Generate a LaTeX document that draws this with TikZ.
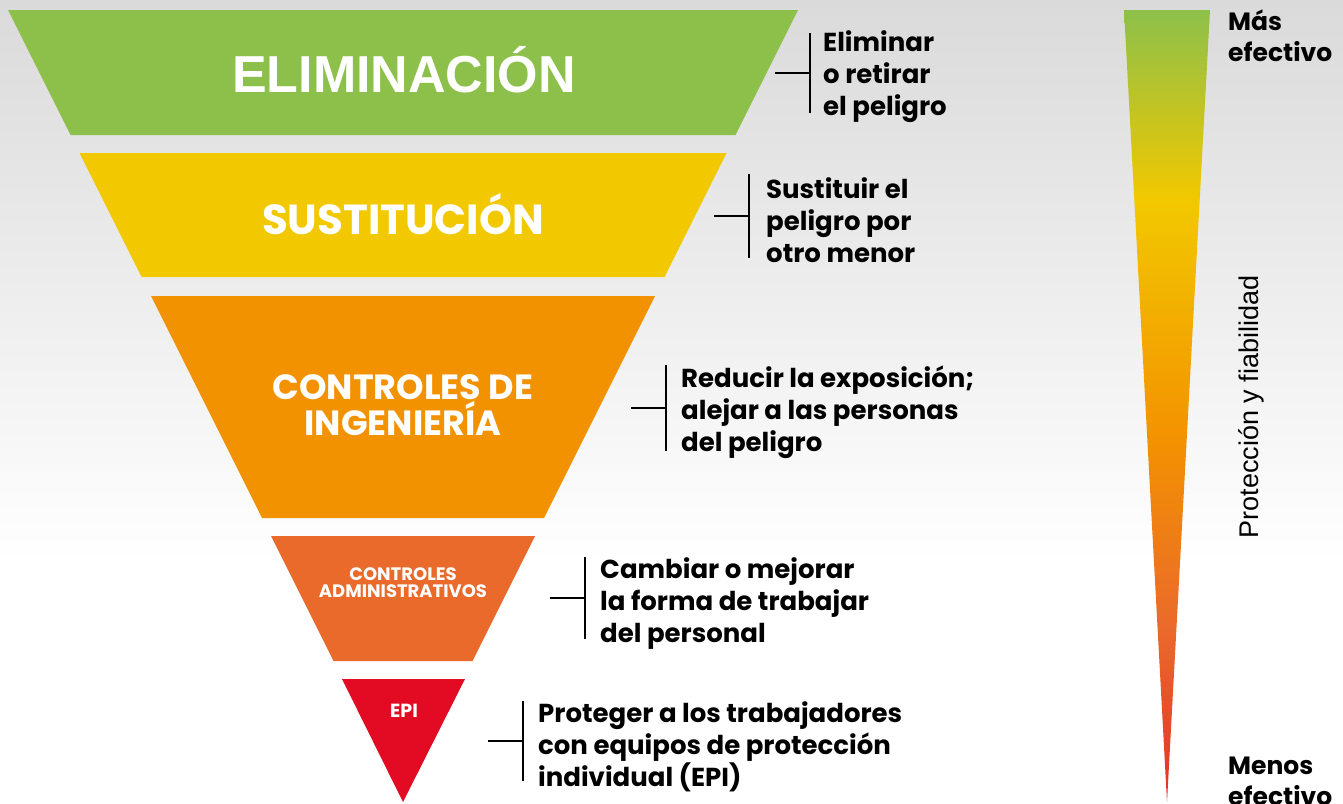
\documentclass[tikz,border=0pt]{standalone}
\usepackage{fontspec}
\setmainfont{Poppins}
\newfontfamily\arialf{Liberation Sans}
\definecolor{elim}{HTML}{8DC04A}
\definecolor{sust}{HTML}{F2C800}
\definecolor{ing}{HTML}{F39200}
\definecolor{adm}{HTML}{EA6A2B}
\definecolor{epi}{HTML}{E30A23}
\definecolor{barred}{HTML}{E5302A}
\definecolor{bgtop}{HTML}{DADADA}
\pgfdeclareverticalshading{bgshade}{100bp}{color(0bp)=(white); color(25bp)=(white); color(40bp)=(white); color(75bp)=(bgtop); color(100bp)=(bgtop)}
\pgfdeclareverticalshading{barshade}{100bp}{color(0bp)=(barred); color(25bp)=(barred); color(36bp)=(adm); color(48bp)=(ing); color(63bp)=(sust); color(75bp)=(elim); color(100bp)=(elim)}
\tikzset{
  desc/.style={anchor=west, inner sep=0pt, align=left, text=black, font=\bfseries\fontsize{26}{32}\selectfont},
  title/.style={inner sep=0pt, align=center, text=white},
  brack/.style={line width=1.3pt, black},
  scale label/.style={anchor=west, inner sep=0pt, align=left, font=\bfseries\fontsize{25}{31}\selectfont}
}
\newcommand\trap[3]{\fill[#3] ({403-(800-#1)/2},#1) -- ({403+(800-#1)/2},#1) -- ({403+(800-#2)/2},#2) -- ({403-(800-#2)/2},#2) -- cycle;}
\newcommand\brk[4]{% name, x of vertical, y center, half height
  \coordinate (#1t) at (#2,#3-#4);
  \coordinate (#1b) at (#2,#3+#4);
  \coordinate (#1m) at (#2,#3);
  \coordinate (#1l) at (#2-35,#3);
  \draw[brack] (#1t) -- (#1b);
  \draw[brack] (#1l) -- (#1m);
}
\begin{document}
\begin{tikzpicture}[x=1pt,y=-1pt]
\shade[shading=bgshade] (0,0) rectangle (1343,803);
\useasboundingbox (0,0) rectangle (1343,803);
% funnel
\trap{10}{135}{elim}
\trap{153}{277}{sust}
\trap{296}{518}{ing}
\trap{536}{661}{adm}
\fill[epi] (342,679) -- (465,679) -- (403,802) -- cycle;
% titles
\node[title, anchor=base, font=\arialf\bfseries\fontsize{52}{60}\selectfont] (t1) at (404,92) {ELIMINACIÓN};
\node[title, anchor=base, font=\bfseries\fontsize{42}{48}\selectfont] (t2) at (403,234) {SUSTITUCIÓN};
\node[title, font=\bfseries\fontsize{35}{33}\selectfont] (t3) at (403,405) {CONTROLES DE\\INGENIERÍA};
\node[title, font=\bfseries\fontsize{18}{17}\selectfont] (t4) at (403,583) {CONTROLES\\ADMINISTRATIVOS};
\node[title, font=\bfseries\fontsize{19}{20}\selectfont] (t5) at (404,711) {EPI};
% brackets
\brk{b1}{810}{73}{40}
\brk{b2}{749}{216}{42}
\brk{b3}{666}{408}{43}
\brk{b4}{585}{598}{41}
\brk{b5}{523}{741}{40}
% descriptions
\node[desc] (d1) at (823,77) {Eliminar\\o retirar\\el peligro};
\node[desc] (d2) at (766,220) {Sustituir el\\peligro por\\otro menor};
\node[desc] (d3) at (681,412) {Reducir la exposición;\\alejar a las personas\\del peligro};
\node[desc] (d4) at (600,604) {Cambiar o mejorar\\la forma de trabajar\\del personal};
\node[desc] (d5) at (538,747) {Proteger a los trabajadores\\con equipos de protección\\individual (EPI)};
% effectiveness bar
\shade[shading=barshade] (1124,10) -- (1210,10) -- (1167,802) -- cycle;
\node[scale label] (m1) at (1228,36) {Más\\efectivo};
\node[scale label, anchor=north west] (m2) at (1228,757) {Menos\\efectivo};
\node[inner sep=0pt, rotate=90, font=\arialf\fontsize{27}{30}\selectfont] (pf) at (1251,407) {Protección y fiabilidad};
\end{tikzpicture}
\end{document}
